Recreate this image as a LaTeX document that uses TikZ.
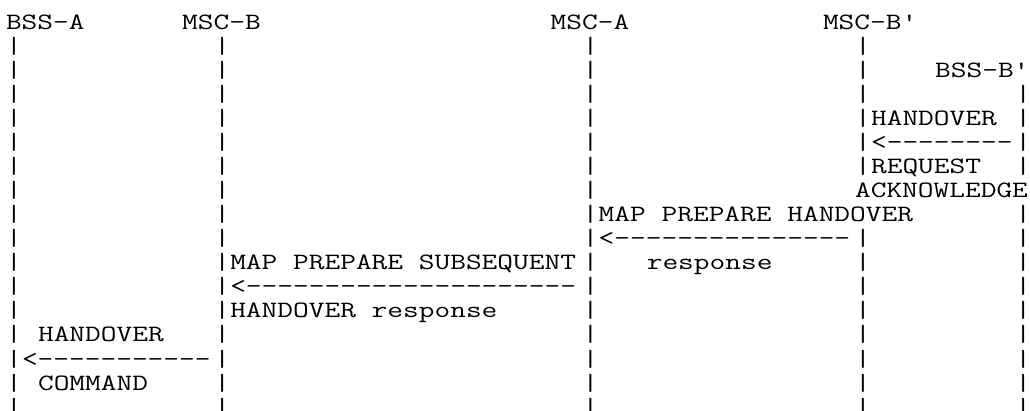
\documentclass[tikz,border=0pt]{standalone}
\usepackage{fontspec}
\usepackage{graphicx}
\newcommand\A[1]{\scalebox{1.304}[1]{#1}}
\newcommand\Bar{\scalebox{1.304}[1]{|}}
\tikzset{
  ascii/.style={anchor=base west, inner sep=0pt, outer sep=0pt,
    font=\fontsize{23.4}{24}\selectfont\ttfamily}
}
\begin{document}
\begin{tikzpicture}[x=16.02pt,y=-24.05pt]
\useasboundingbox (0pt,0pt) rectangle (1030pt,-411pt);
\begin{scope}[shift={(6pt,-29.3pt)}]
  % headings
  \node[ascii] (hBSSA) at (0,0) {\A{BSS-A}};
  \node[ascii] (hMSCB) at (11,0) {\A{MSC-B}};
  \node[ascii] (hMSCA) at (34,0) {\A{MSC-A}};
  \node[ascii] (hMSCBp) at (51,0) {\A{MSC-B\textquotesingle}};
  \node[ascii] (hBSSBp) at (58,2) {\A{BSS-B\textquotesingle}};
  % lifelines
  \foreach \c/\n/\rows in {0/A/{1,...,16}, 13/B/{1,...,16}, 36/C/{1,...,16},
      53/D/{1,2,3,4,5,6,9,10,...,16}, 63/E/{3,4,5,6,8,9,...,16}}{
    \foreach \r in \rows {\node[ascii] (bar\n\r) at (\c,\r) {\Bar};}
  }
  % messages
  \node[ascii] (m1a) at (54,4) {\A{HANDOVER}};
  \node[ascii] (m1arrow) at (54,5) {\A{<--------}};
  \node[ascii] (m1b) at (54,6) {\A{REQUEST}};
  \node[ascii] (m1c) at (53,7) {\A{ACKNOWLEDGE}};
  \node[ascii] (m2a) at (37,8) {\A{MAP PREPARE HANDOVER}};
  \node[ascii] (m2arrow) at (37,9) {\A{<---------------}};
  \node[ascii] (m2b) at (40,10) {\A{response}};
  \node[ascii] (m3a) at (14,10) {\A{MAP PREPARE SUBSEQUENT}};
  \node[ascii] (m3arrow) at (14,11) {\A{<---------------------}};
  \node[ascii] (m3b) at (14,12) {\A{HANDOVER response}};
  \node[ascii] (m4a) at (2,13) {\A{HANDOVER}};
  \node[ascii] (m4arrow) at (1,14) {\A{<-----------}};
  \node[ascii] (m4b) at (2,15) {\A{COMMAND}};
\end{scope}
\end{tikzpicture}
\end{document}
